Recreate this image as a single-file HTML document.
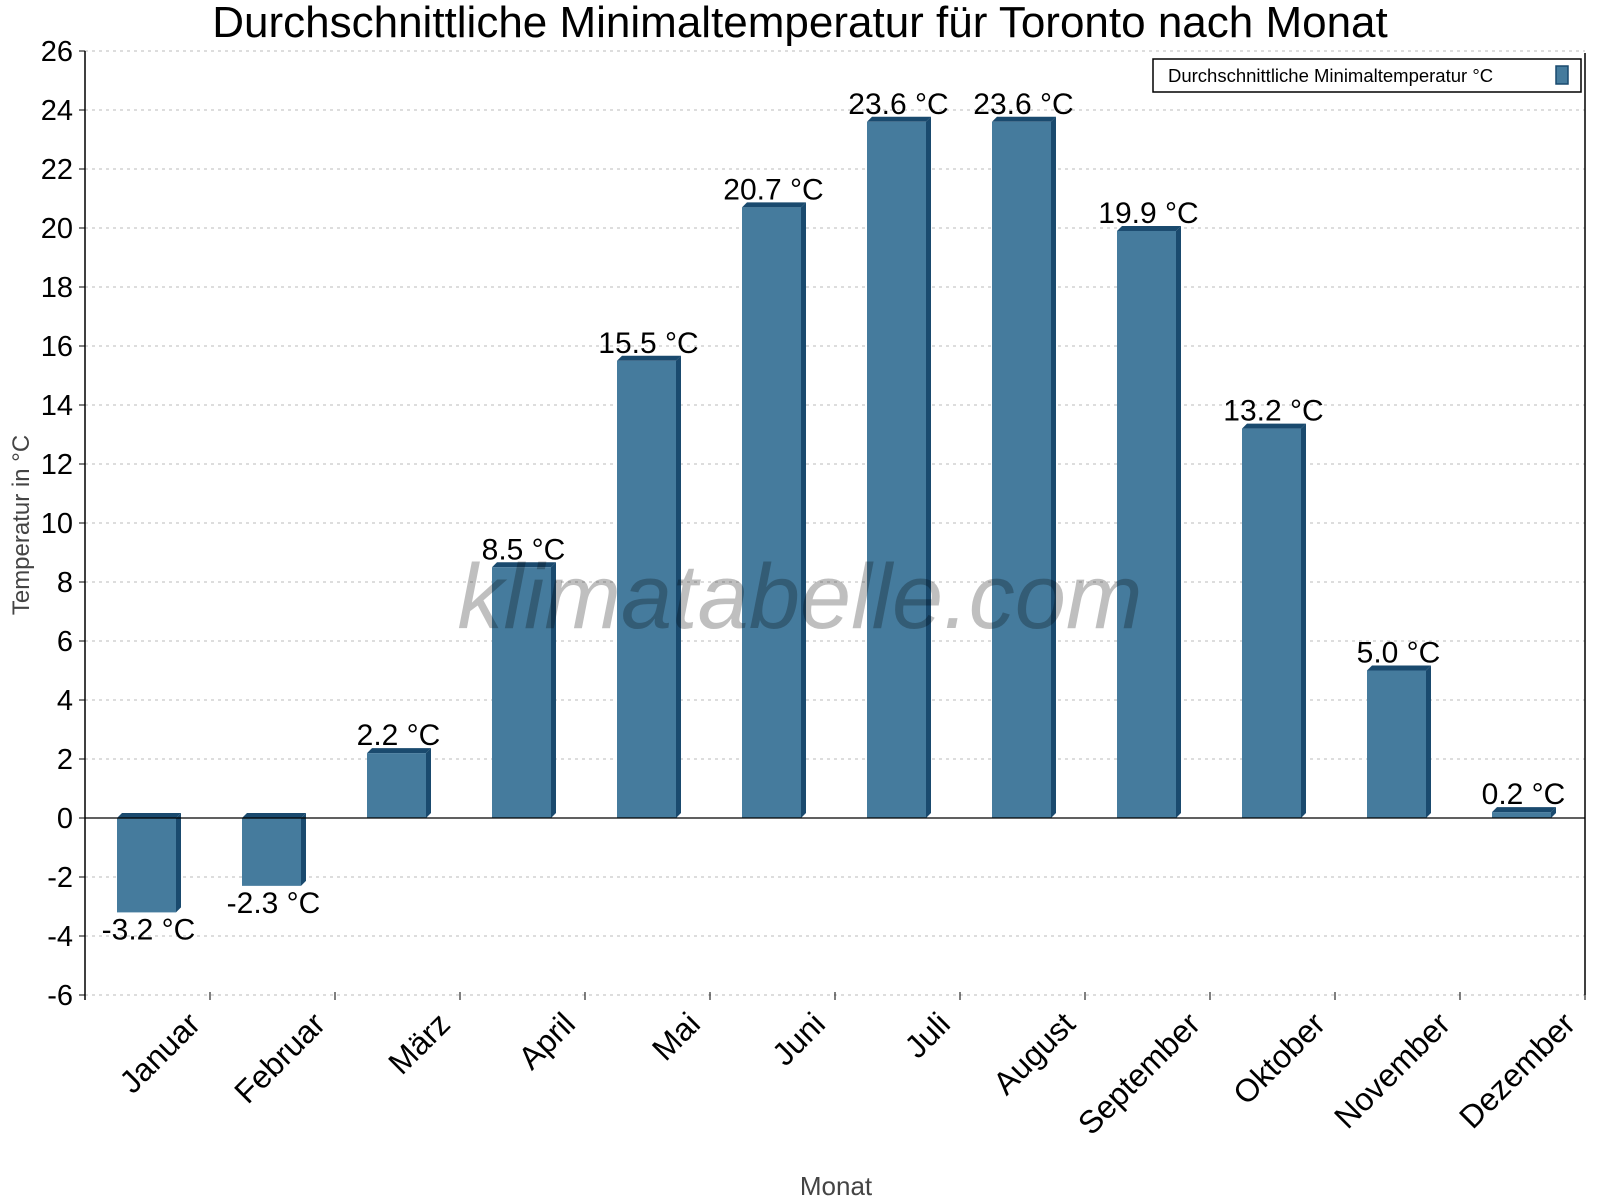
<!DOCTYPE html>
<html><head><meta charset="utf-8"><style>
body{margin:0;background:#fff}
svg{display:block;font-family:"Liberation Sans",sans-serif}
</style></head><body>
<svg id="chart" width="1600" height="1200" viewBox="0 0 1600 1200">
<text x="800" y="37" text-anchor="middle" font-size="44">Durchschnittliche Minimaltemperatur für Toronto nach Monat</text>
<g id="grid"></g>
<g id="bars"></g>
<text x="800" y="628" text-anchor="middle" font-size="92" font-style="italic" fill="#000" fill-opacity="0.25">klimatabelle.com</text>
<g id="axes"></g>
<text transform="translate(29,525) rotate(-90)" text-anchor="middle" font-size="24" fill="#444">Temperatur in °C</text>
<text x="836" y="1195" text-anchor="middle" font-size="26" fill="#444">Monat</text>
<g>
<rect x="1153" y="59" width="428" height="33" fill="#fff" stroke="#000" stroke-width="1.5"/>
<text x="1168" y="82" font-size="18.5">Durchschnittliche Minimaltemperatur °C</text>
<rect x="1556" y="66" width="12" height="18" fill="#457b9d" stroke="#1a4a6e" stroke-width="1.5"/>
</g>
</svg>
<script>
const months=["Januar","Februar","März","April","Mai","Juni","Juli","August","September","Oktober","November","Dezember"];
const values=[-3.2,-2.3,2.2,8.5,15.5,20.7,23.6,23.6,19.9,13.2,5.0,0.2];
const yTicks=[-6,-4,-2,0,2,4,6,8,10,12,14,16,18,20,22,24,26];
const NS="http://www.w3.org/2000/svg";
const L=85,R=1585,Y0=818,PX=29.5;
const y=v=>Y0-v*PX;
const cw=(R-L)/months.length;
const x=i=>L+cw*i;
function mk(t,a,p){const e=document.createElementNS(NS,t);for(const k in a)e.setAttribute(k,a[k]);p.appendChild(e);return e;}
const grid=document.getElementById('grid'),bars=document.getElementById('bars'),axes=document.getElementById('axes');
yTicks.forEach(v=>{
 const g=mk('line',{x1:L,x2:R,y1:y(v),y2:y(v),stroke:'#bbb','stroke-dasharray':'3,4'},grid);
 
 
 const t=mk('text',{x:L-12,y:y(v)+10,'text-anchor':'end','font-size':29},axes);
 t.textContent=v;
 
 
 mk('line',{x1:L-6,x2:L,y1:y(v),y2:y(v),stroke:'#000'},axes);
});
const d=5,bw=59;
values.forEach((v,i)=>{
 const cx=x(i)+cw/2-1,x0=cx-bw/2,top=Math.min(y(v),Y0),bot=Math.max(y(v),Y0);
 const g=mk('g',{},bars);
 
 
 mk('polygon',{points:`${x0+bw},${top} ${x0+bw+d},${top-d} ${x0+bw+d},${bot-d} ${x0+bw},${bot}`,fill:'#1a4a6e'},g);
 mk('polygon',{points:`${x0},${top} ${x0+d},${top-d} ${x0+bw+d},${top-d} ${x0+bw},${top}`,fill:'#1a4a6e'},g);
 mk('rect',{x:x0,y:top,width:bw,height:Math.max(bot-top,0.5),fill:'#457b9d'},g);
 const t=mk('text',{x:cx+2,y:v>=0?y(v)-8:y(v)+27,'text-anchor':'middle','font-size':30},bars);
 t.textContent=v.toFixed(1)+' °C';
 
 
 const m=mk('text',{transform:`translate(${x(i+1)-8},1026) rotate(-45)`,'text-anchor':'end','font-size':32},axes);
 m.textContent=months[i];
 
 
 mk('line',{x1:x(i+1),x2:x(i+1),y1:y(-6)-3,y2:y(-6)+5,stroke:'#000'},axes);
});
mk('line',{x1:L,x2:R,y1:Y0,y2:Y0,stroke:'#000','stroke-width':1.2},axes);
mk('line',{x1:L,x2:L,y1:y(26),y2:y(-6)+5,stroke:'#000','stroke-width':1.5},axes);
mk('line',{x1:R,x2:R,y1:y(26)+2,y2:y(-6),stroke:'#000','stroke-width':1.5},axes);
</script>
</body></html>
